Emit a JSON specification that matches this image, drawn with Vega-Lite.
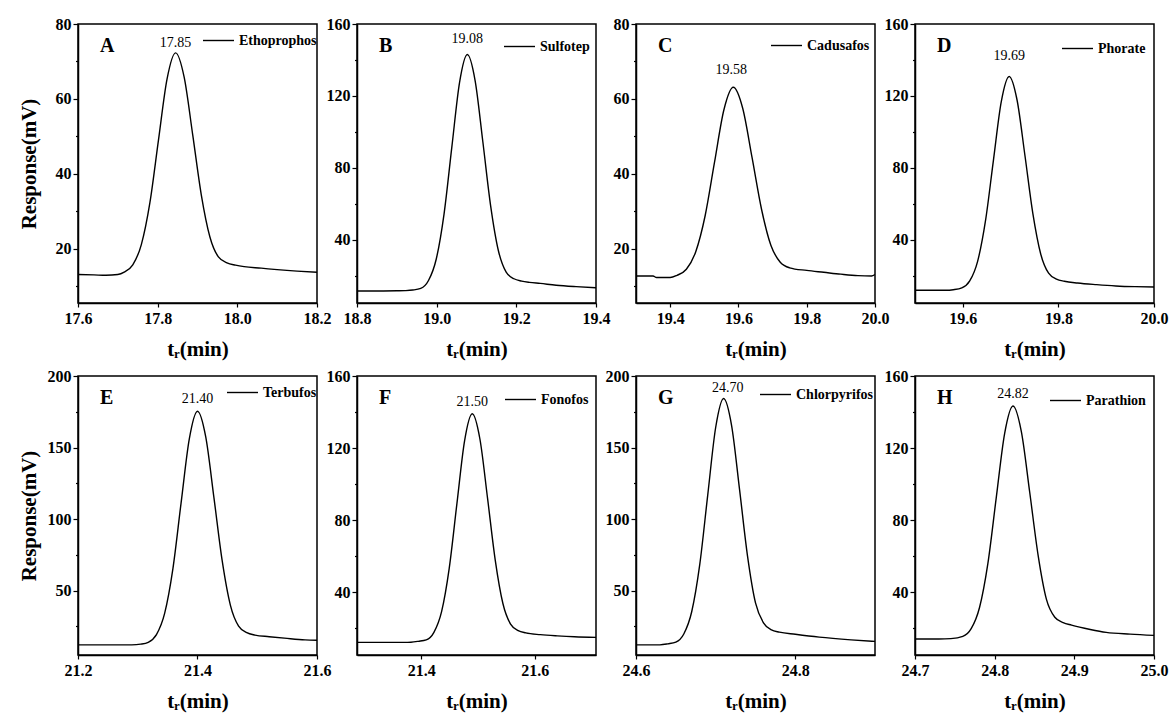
{
  "$schema": "https://vega.github.io/schema/vega-lite/v6.json",
  "background": "white",
  "padding": {"left": 17, "top": 15, "right": 5, "bottom": 5},
  "config": {
    "font": "Liberation Serif",
    "view": {"stroke": "black", "strokeWidth": 1.5},
    "axis": {"grid": false, "domainColor": "black", "domainWidth": 1.5, "tickColor": "black", "tickWidth": 1.2, "labelColor": "black", "labelFont": "Liberation Serif", "labelFontWeight": "bold", "labelFontSize": 16, "titleFont": "Liberation Serif", "titleFontWeight": "bold", "titleFontSize": 21, "titleColor": "black", "labelFlush": false, "labelOverlap": false},
    "axisX": {"tickSize": 4, "labelPadding": 3, "titlePadding": 12, "format": ".1f"},
    "axisY": {"labelPadding": 2, "tickSize": 5},
    "legend": {"orient": "top-right", "symbolType": "stroke", "symbolSize": 961, "symbolStrokeWidth": 1.3, "symbolStrokeColor": "black", "labelFont": "Liberation Serif", "labelFontSize": 14, "labelFontWeight": "bold", "labelColor": "black", "padding": 0, "offset": 2, "labelOffset": 4},
    "title": {"anchor": "start", "frame": "group", "offset": -40, "dx": 22, "baseline": "alphabetic", "fontSize": 20, "fontWeight": "bold", "font": "Liberation Serif", "color": "black"},
    "line": {"strokeWidth": 1.4, "interpolate": "monotone"},
    "text": {"font": "Liberation Serif", "fontSize": 14, "color": "black", "baseline": "bottom"}
  },
  "datasets": {
    "curves": [
      {"panel":"A","name":"Ethoprophos","t":17.6,"r":13.1},{"panel":"A","name":"Ethoprophos","t":17.64,"r":13.0},{"panel":"A","name":"Ethoprophos","t":17.67,"r":12.9},{"panel":"A","name":"Ethoprophos","t":17.7,"r":13.1},{"panel":"A","name":"Ethoprophos","t":17.716,"r":13.75},{"panel":"A","name":"Ethoprophos","t":17.7375,"r":15.7},{"panel":"A","name":"Ethoprophos","t":17.759,"r":21.1},{"panel":"A","name":"Ethoprophos","t":17.7805,"r":32.3},{"panel":"A","name":"Ethoprophos","t":17.802,"r":49.0},{"panel":"A","name":"Ethoprophos","t":17.8235,"r":65.3},{"panel":"A","name":"Ethoprophos","t":17.845,"r":72.3},{"panel":"A","name":"Ethoprophos","t":17.8665,"r":65.8},{"panel":"A","name":"Ethoprophos","t":17.888,"r":50.4},{"panel":"A","name":"Ethoprophos","t":17.9095,"r":34.4},{"panel":"A","name":"Ethoprophos","t":17.931,"r":23.2},{"panel":"A","name":"Ethoprophos","t":17.9525,"r":17.8},{"panel":"A","name":"Ethoprophos","t":17.974,"r":16.2},{"panel":"A","name":"Ethoprophos","t":17.9955,"r":15.6},{"panel":"A","name":"Ethoprophos","t":18.017,"r":15.2},{"panel":"A","name":"Ethoprophos","t":18.06,"r":14.8},{"panel":"A","name":"Ethoprophos","t":18.1,"r":14.4},{"panel":"A","name":"Ethoprophos","t":18.15,"r":14.0},{"panel":"A","name":"Ethoprophos","t":18.2,"r":13.7},
      {"panel":"B","name":"Sulfotep","t":18.8,"r":11.4},{"panel":"B","name":"Sulfotep","t":18.85,"r":11.4},{"panel":"B","name":"Sulfotep","t":18.9,"r":11.5},{"panel":"B","name":"Sulfotep","t":18.921,"r":11.6},{"panel":"B","name":"Sulfotep","t":18.94,"r":11.9},{"panel":"B","name":"Sulfotep","t":18.96,"r":12.8},{"panel":"B","name":"Sulfotep","t":18.9795,"r":17.2},{"panel":"B","name":"Sulfotep","t":18.999,"r":29.2},{"panel":"B","name":"Sulfotep","t":19.0185,"r":54.2},{"panel":"B","name":"Sulfotep","t":19.038,"r":91.3},{"panel":"B","name":"Sulfotep","t":19.0575,"r":127.5},{"panel":"B","name":"Sulfotep","t":19.077,"r":143},{"panel":"B","name":"Sulfotep","t":19.0965,"r":128.5},{"panel":"B","name":"Sulfotep","t":19.116,"r":94.3},{"panel":"B","name":"Sulfotep","t":19.1355,"r":58.8},{"panel":"B","name":"Sulfotep","t":19.155,"r":33.8},{"panel":"B","name":"Sulfotep","t":19.1745,"r":21.9},{"panel":"B","name":"Sulfotep","t":19.194,"r":18.2},{"panel":"B","name":"Sulfotep","t":19.2135,"r":16.9},{"panel":"B","name":"Sulfotep","t":19.233,"r":16.2},{"panel":"B","name":"Sulfotep","t":19.26,"r":15.6},{"panel":"B","name":"Sulfotep","t":19.3,"r":14.6},{"panel":"B","name":"Sulfotep","t":19.35,"r":13.8},{"panel":"B","name":"Sulfotep","t":19.4,"r":13.2},
      {"panel":"C","name":"Cadusafos","t":19.3,"r":12.7},{"panel":"C","name":"Cadusafos","t":19.35,"r":12.7},{"panel":"C","name":"Cadusafos","t":19.36,"r":12.3},{"panel":"C","name":"Cadusafos","t":19.4,"r":12.3},{"panel":"C","name":"Cadusafos","t":19.42,"r":12.9},{"panel":"C","name":"Cadusafos","t":19.4475,"r":14.5},{"panel":"C","name":"Cadusafos","t":19.475,"r":19.2},{"panel":"C","name":"Cadusafos","t":19.5025,"r":28.8},{"panel":"C","name":"Cadusafos","t":19.53,"r":43.1},{"panel":"C","name":"Cadusafos","t":19.5575,"r":57.1},{"panel":"C","name":"Cadusafos","t":19.585,"r":63.1},{"panel":"C","name":"Cadusafos","t":19.6125,"r":57.5},{"panel":"C","name":"Cadusafos","t":19.64,"r":44.3},{"panel":"C","name":"Cadusafos","t":19.6675,"r":30.6},{"panel":"C","name":"Cadusafos","t":19.695,"r":20.9},{"panel":"C","name":"Cadusafos","t":19.7225,"r":16.4},{"panel":"C","name":"Cadusafos","t":19.75,"r":14.9},{"panel":"C","name":"Cadusafos","t":19.8,"r":14.2},{"panel":"C","name":"Cadusafos","t":19.85,"r":13.7},{"panel":"C","name":"Cadusafos","t":19.9,"r":13.2},{"panel":"C","name":"Cadusafos","t":19.95,"r":12.8},{"panel":"C","name":"Cadusafos","t":19.99,"r":12.7},{"panel":"C","name":"Cadusafos","t":20.0,"r":13.1},
      {"panel":"D","name":"Phorate","t":19.5,"r":11.8},{"panel":"D","name":"Phorate","t":19.55,"r":11.8},{"panel":"D","name":"Phorate","t":19.565,"r":11.8},{"panel":"D","name":"Phorate","t":19.58,"r":12.1},{"panel":"D","name":"Phorate","t":19.598,"r":13.1},{"panel":"D","name":"Phorate","t":19.6145,"r":17.0},{"panel":"D","name":"Phorate","t":19.631,"r":27.9},{"panel":"D","name":"Phorate","t":19.6475,"r":50.5},{"panel":"D","name":"Phorate","t":19.664,"r":84.0},{"panel":"D","name":"Phorate","t":19.6805,"r":116.8},{"panel":"D","name":"Phorate","t":19.697,"r":130.8},{"panel":"D","name":"Phorate","t":19.7135,"r":117.7},{"panel":"D","name":"Phorate","t":19.73,"r":86.8},{"panel":"D","name":"Phorate","t":19.7465,"r":54.6},{"panel":"D","name":"Phorate","t":19.763,"r":32.0},{"panel":"D","name":"Phorate","t":19.7795,"r":21.3},{"panel":"D","name":"Phorate","t":19.796,"r":18.0},{"panel":"D","name":"Phorate","t":19.8125,"r":16.8},{"panel":"D","name":"Phorate","t":19.84,"r":15.8},{"panel":"D","name":"Phorate","t":19.88,"r":14.9},{"panel":"D","name":"Phorate","t":19.92,"r":14.2},{"panel":"D","name":"Phorate","t":19.96,"r":13.8},{"panel":"D","name":"Phorate","t":20.0,"r":13.6},
      {"panel":"E","name":"Terbufos","t":21.2,"r":12.1},{"panel":"E","name":"Terbufos","t":21.25,"r":12.1},{"panel":"E","name":"Terbufos","t":21.29,"r":12.1},{"panel":"E","name":"Terbufos","t":21.305,"r":12.6},{"panel":"E","name":"Terbufos","t":21.3175,"r":13.9},{"panel":"E","name":"Terbufos","t":21.3313,"r":19.3},{"panel":"E","name":"Terbufos","t":21.345,"r":34.1},{"panel":"E","name":"Terbufos","t":21.3588,"r":65.2},{"panel":"E","name":"Terbufos","t":21.3725,"r":111.2},{"panel":"E","name":"Terbufos","t":21.3863,"r":156.1},{"panel":"E","name":"Terbufos","t":21.4,"r":175.4},{"panel":"E","name":"Terbufos","t":21.4138,"r":157.4},{"panel":"E","name":"Terbufos","t":21.4275,"r":115.0},{"panel":"E","name":"Terbufos","t":21.4413,"r":70.9},{"panel":"E","name":"Terbufos","t":21.455,"r":39.9},{"panel":"E","name":"Terbufos","t":21.4688,"r":25.2},{"panel":"E","name":"Terbufos","t":21.4825,"r":20.6},{"panel":"E","name":"Terbufos","t":21.4963,"r":18.9},{"panel":"E","name":"Terbufos","t":21.52,"r":17.8},{"panel":"E","name":"Terbufos","t":21.55,"r":16.6},{"panel":"E","name":"Terbufos","t":21.58,"r":15.6},{"panel":"E","name":"Terbufos","t":21.6,"r":15.3},
      {"panel":"F","name":"Fonofos","t":21.287,"r":12.0},{"panel":"F","name":"Fonofos","t":21.33,"r":12.0},{"panel":"F","name":"Fonofos","t":21.37,"r":12.0},{"panel":"F","name":"Fonofos","t":21.382,"r":12.1},{"panel":"F","name":"Fonofos","t":21.395,"r":12.6},{"panel":"F","name":"Fonofos","t":21.409,"r":13.4},{"panel":"F","name":"Fonofos","t":21.4225,"r":17.6},{"panel":"F","name":"Fonofos","t":21.436,"r":29.1},{"panel":"F","name":"Fonofos","t":21.4495,"r":53.3},{"panel":"F","name":"Fonofos","t":21.463,"r":89.1},{"panel":"F","name":"Fonofos","t":21.4765,"r":124},{"panel":"F","name":"Fonofos","t":21.49,"r":139},{"panel":"F","name":"Fonofos","t":21.5035,"r":125},{"panel":"F","name":"Fonofos","t":21.517,"r":92},{"panel":"F","name":"Fonofos","t":21.5305,"r":57.7},{"panel":"F","name":"Fonofos","t":21.544,"r":33.6},{"panel":"F","name":"Fonofos","t":21.5575,"r":22.2},{"panel":"F","name":"Fonofos","t":21.571,"r":18.6},{"panel":"F","name":"Fonofos","t":21.5845,"r":17.3},{"panel":"F","name":"Fonofos","t":21.61,"r":16.3},{"panel":"F","name":"Fonofos","t":21.64,"r":15.6},{"panel":"F","name":"Fonofos","t":21.67,"r":15.1},{"panel":"F","name":"Fonofos","t":21.708,"r":14.8},
      {"panel":"G","name":"Chlorpyrifos","t":24.6,"r":12.1},{"panel":"G","name":"Chlorpyrifos","t":24.62,"r":12.1},{"panel":"G","name":"Chlorpyrifos","t":24.63,"r":12.1},{"panel":"G","name":"Chlorpyrifos","t":24.64,"r":12.8},{"panel":"G","name":"Chlorpyrifos","t":24.65,"r":14.0},{"panel":"G","name":"Chlorpyrifos","t":24.66,"r":19.7},{"panel":"G","name":"Chlorpyrifos","t":24.67,"r":35.4},{"panel":"G","name":"Chlorpyrifos","t":24.68,"r":68.1},{"panel":"G","name":"Chlorpyrifos","t":24.69,"r":116.6},{"panel":"G","name":"Chlorpyrifos","t":24.7,"r":164},{"panel":"G","name":"Chlorpyrifos","t":24.71,"r":184.3},{"panel":"G","name":"Chlorpyrifos","t":24.72,"r":165.4},{"panel":"G","name":"Chlorpyrifos","t":24.73,"r":120.6},{"panel":"G","name":"Chlorpyrifos","t":24.74,"r":74.1},{"panel":"G","name":"Chlorpyrifos","t":24.75,"r":41.4},{"panel":"G","name":"Chlorpyrifos","t":24.76,"r":27.5},{"panel":"G","name":"Chlorpyrifos","t":24.77,"r":22.5},{"panel":"G","name":"Chlorpyrifos","t":24.78,"r":21.0},{"panel":"G","name":"Chlorpyrifos","t":24.8,"r":19.5},{"panel":"G","name":"Chlorpyrifos","t":24.83,"r":17.5},{"panel":"G","name":"Chlorpyrifos","t":24.87,"r":15.6},{"panel":"G","name":"Chlorpyrifos","t":24.9,"r":14.5},
      {"panel":"H","name":"Parathion","t":24.7,"r":13.9},{"panel":"H","name":"Parathion","t":24.73,"r":13.9},{"panel":"H","name":"Parathion","t":24.745,"r":14.1},{"panel":"H","name":"Parathion","t":24.76,"r":15.3},{"panel":"H","name":"Parathion","t":24.7705,"r":19.6},{"panel":"H","name":"Parathion","t":24.781,"r":31.4},{"panel":"H","name":"Parathion","t":24.7915,"r":55.9},{"panel":"H","name":"Parathion","t":24.802,"r":92.4},{"panel":"H","name":"Parathion","t":24.8125,"r":128},{"panel":"H","name":"Parathion","t":24.823,"r":143.3},{"panel":"H","name":"Parathion","t":24.8335,"r":129.1},{"panel":"H","name":"Parathion","t":24.844,"r":95.4},{"panel":"H","name":"Parathion","t":24.8545,"r":60.5},{"panel":"H","name":"Parathion","t":24.865,"r":35.9},{"panel":"H","name":"Parathion","t":24.8755,"r":26},{"panel":"H","name":"Parathion","t":24.886,"r":23.0},{"panel":"H","name":"Parathion","t":24.8965,"r":21.6},{"panel":"H","name":"Parathion","t":24.92,"r":19.2},{"panel":"H","name":"Parathion","t":24.94,"r":17.6},{"panel":"H","name":"Parathion","t":24.97,"r":16.6},{"panel":"H","name":"Parathion","t":25.0,"r":15.9}
    ],
    "peaks": [
      {"panel":"A","t":17.845,"r":72.3,"label":"17.85"},
      {"panel":"B","t":19.077,"r":143,"label":"19.08"},
      {"panel":"C","t":19.585,"r":63.1,"label":"19.58"},
      {"panel":"D","t":19.697,"r":130.8,"label":"19.69"},
      {"panel":"E","t":21.4,"r":175.4,"label":"21.40"},
      {"panel":"F","t":21.49,"r":139,"label":"21.50"},
      {"panel":"G","t":24.71,"r":184.3,"label":"24.70"},
      {"panel":"H","t":24.823,"r":143.3,"label":"24.82"}
    ]
  },
  "columns": 4,
  "spacing": {"row": 73, "column": 40},
  "bounds": "flush",
  "resolve": {"scale": {"x": "independent", "y": "independent", "color": "independent"}, "legend": {"color": "independent"}},
  "concat": [
    {"width": 239, "height": 279, "title": {"text": "A"},
     "layer": [
      {"data": {"name": "curves"}, "transform": [{"filter": "datum.panel === 'A'"}], "mark": {"type": "line", "clip": true},
       "encoding": {
        "x": {"field": "t", "type": "quantitative", "scale": {"domain": [17.6, 18.2], "nice": false, "zero": false}, "axis": {"values": [17.6, 17.8, 18.0, 18.2], "tickCount": 20, "title": "tᵣ(min)"}},
        "y": {"field": "r", "type": "quantitative", "scale": {"domain": [5.5, 80], "nice": false, "zero": false}, "axis": {"values": [10, 20, 30, 40, 50, 60, 70, 80], "tickCount": 20, "labelExpr": "datum.value % 20 === 0 ? datum.label : ''", "tickDash": {"condition": {"test": "datum.value % 20 !== 0", "value": [2.5, 10]}, "value": [10, 0]}, "title": "Response(mV)", "titlePadding": 16}},
        "color": {"field": "name", "type": "nominal", "scale": {"range": ["black"]}, "legend": {"title": null, "offset": 0}}}},
      {"data": {"name": "peaks"}, "transform": [{"filter": "datum.panel === 'A'"}], "mark": {"type": "text", "dy": -3},
       "encoding": {"x": {"field": "t", "type": "quantitative"}, "y": {"field": "r", "type": "quantitative"}, "text": {"field": "label"}}}
     ]},
    {"width": 239, "height": 279, "title": {"text": "B"},
     "layer": [
      {"data": {"name": "curves"}, "transform": [{"filter": "datum.panel === 'B'"}], "mark": {"type": "line", "clip": true},
       "encoding": {
        "x": {"field": "t", "type": "quantitative", "scale": {"domain": [18.8, 19.4], "nice": false, "zero": false}, "axis": {"values": [18.8, 19.0, 19.2, 19.4], "tickCount": 20, "title": "tᵣ(min)"}},
        "y": {"field": "r", "type": "quantitative", "scale": {"domain": [4.7, 160], "nice": false, "zero": false}, "axis": {"values": [20, 40, 60, 80, 100, 120, 140, 160], "tickCount": 20, "labelExpr": "datum.value % 40 === 0 ? datum.label : ''", "tickDash": {"condition": {"test": "datum.value % 40 !== 0", "value": [2.5, 10]}, "value": [10, 0]}, "title": null}},
        "color": {"field": "name", "type": "nominal", "scale": {"range": ["black"]}, "legend": {"title": null, "offset": 6}}}},
      {"data": {"name": "peaks"}, "transform": [{"filter": "datum.panel === 'B'"}], "mark": {"type": "text", "dy": -9},
       "encoding": {"x": {"field": "t", "type": "quantitative"}, "y": {"field": "r", "type": "quantitative"}, "text": {"field": "label"}}}
     ]},
    {"width": 239, "height": 279, "title": {"text": "C"},
     "layer": [
      {"data": {"name": "curves"}, "transform": [{"filter": "datum.panel === 'C'"}], "mark": {"type": "line", "clip": true},
       "encoding": {
        "x": {"field": "t", "type": "quantitative", "scale": {"domain": [19.3, 20.0], "nice": false, "zero": false}, "axis": {"values": [19.4, 19.6, 19.8, 20.0], "tickCount": 20, "title": "tᵣ(min)"}},
        "y": {"field": "r", "type": "quantitative", "scale": {"domain": [5.5, 80], "nice": false, "zero": false}, "axis": {"values": [10, 20, 30, 40, 50, 60, 70, 80], "tickCount": 20, "labelExpr": "datum.value % 20 === 0 ? datum.label : ''", "tickDash": {"condition": {"test": "datum.value % 20 !== 0", "value": [2.5, 10]}, "value": [10, 0]}, "title": null}},
        "color": {"field": "name", "type": "nominal", "scale": {"range": ["black"]}, "legend": {"title": null, "offset": 5}}}},
      {"data": {"name": "peaks"}, "transform": [{"filter": "datum.panel === 'C'"}], "mark": {"type": "text", "dy": -10, "dx": -2},
       "encoding": {"x": {"field": "t", "type": "quantitative"}, "y": {"field": "r", "type": "quantitative"}, "text": {"field": "label"}}}
     ]},
    {"width": 239, "height": 279, "title": {"text": "D"},
     "layer": [
      {"data": {"name": "curves"}, "transform": [{"filter": "datum.panel === 'D'"}], "mark": {"type": "line", "clip": true},
       "encoding": {
        "x": {"field": "t", "type": "quantitative", "scale": {"domain": [19.5, 20.0], "nice": false, "zero": false}, "axis": {"values": [19.6, 19.8, 20.0], "tickCount": 20, "title": "tᵣ(min)"}},
        "y": {"field": "r", "type": "quantitative", "scale": {"domain": [4.7, 160], "nice": false, "zero": false}, "axis": {"values": [20, 40, 60, 80, 100, 120, 140, 160], "tickCount": 20, "labelExpr": "datum.value % 40 === 0 ? datum.label : ''", "tickDash": {"condition": {"test": "datum.value % 40 !== 0", "value": [2.5, 10]}, "value": [10, 0]}, "title": null}},
        "color": {"field": "name", "type": "nominal", "scale": {"range": ["black"]}, "legend": {"title": null, "offset": 8}}}},
      {"data": {"name": "peaks"}, "transform": [{"filter": "datum.panel === 'D'"}], "mark": {"type": "text", "dy": -13},
       "encoding": {"x": {"field": "t", "type": "quantitative"}, "y": {"field": "r", "type": "quantitative"}, "text": {"field": "label"}}}
     ]},
    {"width": 239, "height": 279, "title": {"text": "E"},
     "layer": [
      {"data": {"name": "curves"}, "transform": [{"filter": "datum.panel === 'E'"}], "mark": {"type": "line", "clip": true},
       "encoding": {
        "x": {"field": "t", "type": "quantitative", "scale": {"domain": [21.2, 21.6], "nice": false, "zero": false}, "axis": {"values": [21.2, 21.4, 21.6], "tickCount": 20, "title": "tᵣ(min)"}},
        "y": {"field": "r", "type": "quantitative", "scale": {"domain": [5, 200], "nice": false, "zero": false}, "axis": {"values": [25, 50, 75, 100, 125, 150, 175, 200], "tickCount": 20, "labelExpr": "datum.value % 50 === 0 ? datum.label : ''", "tickDash": {"condition": {"test": "datum.value % 50 !== 0", "value": [2.5, 10]}, "value": [10, 0]}, "title": "Response(mV)", "titlePadding": 8}},
        "color": {"field": "name", "type": "nominal", "scale": {"range": ["black"]}, "legend": {"title": null, "offset": 0}}}},
      {"data": {"name": "peaks"}, "transform": [{"filter": "datum.panel === 'E'"}], "mark": {"type": "text", "dy": -5},
       "encoding": {"x": {"field": "t", "type": "quantitative"}, "y": {"field": "r", "type": "quantitative"}, "text": {"field": "label"}}}
     ]},
    {"width": 239, "height": 279, "title": {"text": "F"},
     "layer": [
      {"data": {"name": "curves"}, "transform": [{"filter": "datum.panel === 'F'"}], "mark": {"type": "line", "clip": true},
       "encoding": {
        "x": {"field": "t", "type": "quantitative", "scale": {"domain": [21.287, 21.708], "nice": false, "zero": false}, "axis": {"values": [21.4, 21.6], "tickCount": 20, "title": "tᵣ(min)"}},
        "y": {"field": "r", "type": "quantitative", "scale": {"domain": [5, 160], "nice": false, "zero": false}, "axis": {"values": [20, 40, 60, 80, 100, 120, 140, 160], "tickCount": 20, "labelExpr": "datum.value % 40 === 0 ? datum.label : ''", "tickDash": {"condition": {"test": "datum.value % 40 !== 0", "value": [2.5, 10]}, "value": [10, 0]}, "title": null}},
        "color": {"field": "name", "type": "nominal", "scale": {"range": ["black"]}, "legend": {"title": null, "offset": 7}}}},
      {"data": {"name": "peaks"}, "transform": [{"filter": "datum.panel === 'F'"}], "mark": {"type": "text", "dy": -5},
       "encoding": {"x": {"field": "t", "type": "quantitative"}, "y": {"field": "r", "type": "quantitative"}, "text": {"field": "label"}}}
     ]},
    {"width": 239, "height": 279, "title": {"text": "G"},
     "layer": [
      {"data": {"name": "curves"}, "transform": [{"filter": "datum.panel === 'G'"}], "mark": {"type": "line", "clip": true},
       "encoding": {
        "x": {"field": "t", "type": "quantitative", "scale": {"domain": [24.6, 24.9], "nice": false, "zero": false}, "axis": {"values": [24.6, 24.8], "tickCount": 20, "title": "tᵣ(min)"}},
        "y": {"field": "r", "type": "quantitative", "scale": {"domain": [5, 200], "nice": false, "zero": false}, "axis": {"values": [25, 50, 75, 100, 125, 150, 175, 200], "tickCount": 20, "labelExpr": "datum.value % 50 === 0 ? datum.label : ''", "tickDash": {"condition": {"test": "datum.value % 50 !== 0", "value": [2.5, 10]}, "value": [10, 0]}, "title": null}},
        "color": {"field": "name", "type": "nominal", "scale": {"range": ["black"]}, "legend": {"title": null, "offset": 2}}}},
      {"data": {"name": "peaks"}, "transform": [{"filter": "datum.panel === 'G'"}], "mark": {"type": "text", "dy": -3, "dx": 4},
       "encoding": {"x": {"field": "t", "type": "quantitative"}, "y": {"field": "r", "type": "quantitative"}, "text": {"field": "label"}}}
     ]},
    {"width": 239, "height": 279, "title": {"text": "H"},
     "layer": [
      {"data": {"name": "curves"}, "transform": [{"filter": "datum.panel === 'H'"}], "mark": {"type": "line", "clip": true},
       "encoding": {
        "x": {"field": "t", "type": "quantitative", "scale": {"domain": [24.7, 25.0], "nice": false, "zero": false}, "axis": {"values": [24.7, 24.8, 24.9, 25.0], "tickCount": 20, "title": "tᵣ(min)"}},
        "y": {"field": "r", "type": "quantitative", "scale": {"domain": [5, 160], "nice": false, "zero": false}, "axis": {"values": [20, 40, 60, 80, 100, 120, 140, 160], "tickCount": 20, "labelExpr": "datum.value % 40 === 0 ? datum.label : ''", "tickDash": {"condition": {"test": "datum.value % 40 !== 0", "value": [2.5, 10]}, "value": [10, 0]}, "title": null}},
        "color": {"field": "name", "type": "nominal", "scale": {"range": ["black"]}, "legend": {"title": null, "offset": 8}}}},
      {"data": {"name": "peaks"}, "transform": [{"filter": "datum.panel === 'H'"}], "mark": {"type": "text", "dy": -5},
       "encoding": {"x": {"field": "t", "type": "quantitative"}, "y": {"field": "r", "type": "quantitative"}, "text": {"field": "label"}}}
     ]}
  ]
}
